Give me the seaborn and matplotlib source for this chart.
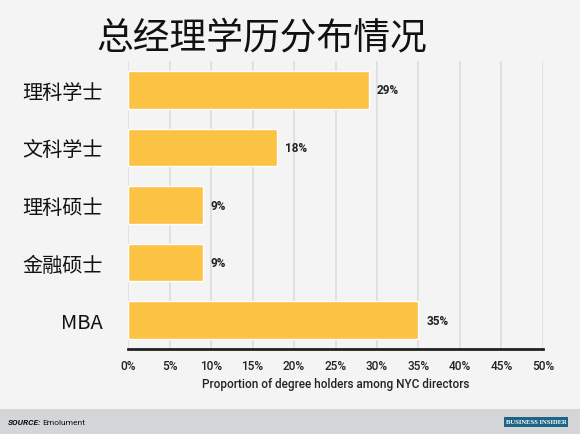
import seaborn as sns
import matplotlib.pyplot as plt
import pandas as pd
from matplotlib.patches import Rectangle

# data
degrees = ["理科学士", "文科学士", "理科硕士", "金融硕士", "MBA"]
share = [29, 18, 9, 9, 35]
xticks = [0, 5, 10, 15, 20, 25, 30, 35, 40, 45, 50]

df = pd.DataFrame({"degree": degrees, "share": share})

sns.set_style("white")
plt.rcParams["font.family"] = ["Noto Sans CJK SC", "DejaVu Sans"]

bg = "#f4f4f4"
fig = plt.figure(figsize=(5.8, 4.35), dpi=100, facecolor=bg)
ax = fig.add_axes([0.2207, 0.1954, 0.7155, 0.662])
ax.set_facecolor(bg)

sns.barplot(data=df, x="share", y="degree", orient="h", color="#fcc244",
            saturation=1, width=0.65, ax=ax, zorder=3)

ax.set_xlim(0, 50)
ax.set_ylim(4.5, -0.5)
ax.set_xticks(xticks)
ax.set_xticklabels([f"{t}%" for t in xticks], family="Roboto",
                   fontweight="medium", fontsize=8.5, color="#222222")
ax.tick_params(axis="x", length=0, pad=7)
ax.tick_params(axis="y", length=0, pad=18, labelsize=14.5, labelcolor="#111111")
ax.grid(axis="x", color="#dcdcdc", linewidth=1.2, zorder=0)
ax.set_axisbelow(True)
for s in ["top", "right", "left"]:
    ax.spines[s].set_visible(False)
ax.spines["bottom"].set_color("#222222")
ax.spines["bottom"].set_linewidth(2)
ax.spines["bottom"].set_zorder(4)
ax.set_ylabel("")
ax.set_xlabel("Proportion of degree holders among NYC directors", family="Roboto",
              fontweight="medium", fontsize=8.5, color="#222222", labelpad=4)

for i, v in enumerate(share):
    ax.text(v + 0.95, i, f"{v}%", va="center", ha="left", family="Roboto",
            fontweight="bold", fontsize=8.5, color="#222222")

fig.text(0.452, 0.912, "总经理学历分布情况", ha="center", va="center",
         fontsize=26.5, color="#111111")

# footer
fig.patches.append(Rectangle((0, 0), 1, 25 / 435, transform=fig.transFigure,
                             facecolor="#d3d5d6", edgecolor="none", zorder=0))
fig.text(8 / 580, 12 / 435, "SOURCE:", family="Roboto", fontweight="bold",
         style="italic", fontsize=6, va="center", color="#111111")
fig.text(42 / 580, 12 / 435, "Emolument", family="Roboto", fontsize=6,
         va="center", color="#111111")
fig.patches.append(Rectangle((504 / 580, 7 / 435), 64 / 580, 10 / 435,
                             transform=fig.transFigure, facecolor="#1d6586",
                             edgecolor="none", zorder=1))
fig.text(536 / 580, 12 / 435, "BUSINESS INSIDER", family="Liberation Serif",
         fontweight="bold", fontsize=4.8, color="white", ha="center",
         va="center", zorder=2)

plt.savefig("out.png", dpi=100, facecolor=bg)
